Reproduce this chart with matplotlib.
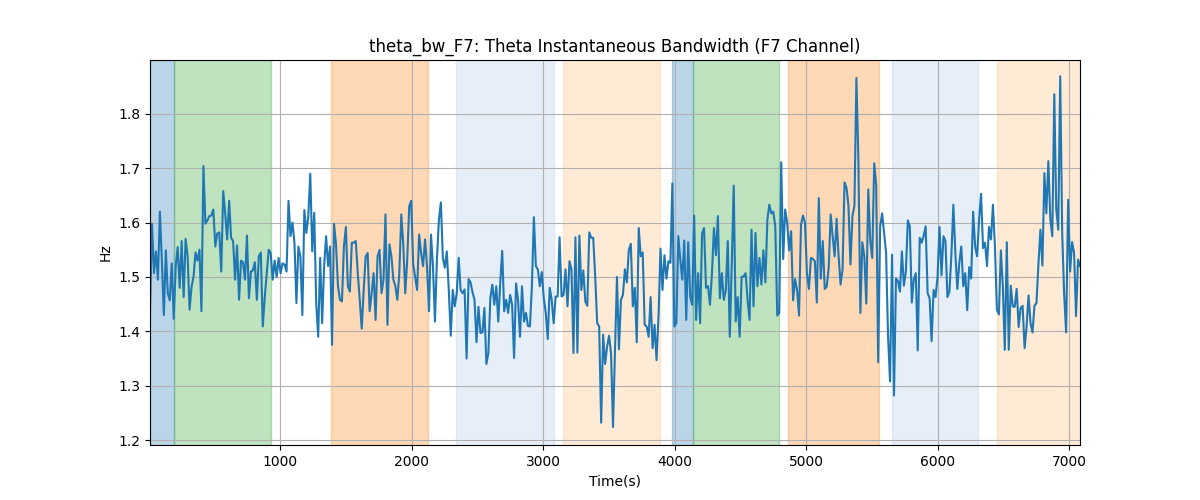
import numpy as np
import matplotlib
matplotlib.use('Agg')
import matplotlib.pyplot as plt

# theta bandwidth readings, F7 channel (left to right)
bw_part1 = [1.435, 1.598, 1.507, 1.547, 1.495, 1.62, 1.53, 1.43, 1.549, 1.47,
            1.457, 1.525, 1.423, 1.52, 1.555, 1.48, 1.566, 1.463, 1.57, 1.538,
            1.44, 1.482, 1.5, 1.545, 1.53, 1.55, 1.437, 1.704, 1.598, 1.604,
            1.612, 1.613, 1.624, 1.556, 1.58, 1.582, 1.51, 1.658, 1.617, 1.569,
            1.64, 1.572, 1.566, 1.495, 1.558, 1.458, 1.53, 1.527, 1.495, 1.576,
            1.461, 1.51, 1.512, 1.527, 1.458, 1.538, 1.545, 1.409, 1.463, 1.507,
            1.55, 1.544, 1.495, 1.53, 1.5, 1.535, 1.507, 1.525, 1.523, 1.51,
            1.64, 1.575, 1.6, 1.563, 1.452, 1.556, 1.538, 1.43]
bw_part2 = [1.623, 1.581, 1.612, 1.69, 1.547, 1.618, 1.452, 1.39, 1.535, 1.415,
            1.52, 1.575, 1.52, 1.556, 1.375, 1.598, 1.56, 1.483, 1.458, 1.455,
            1.556, 1.592, 1.483, 1.473, 1.563, 1.563, 1.566, 1.507, 1.458, 1.405,
            1.476, 1.538, 1.544, 1.437, 1.47, 1.507, 1.421, 1.538, 1.55, 1.47,
            1.495, 1.615, 1.412, 1.56, 1.538, 1.495, 1.483, 1.458, 1.507, 1.615,
            1.56, 1.47, 1.532, 1.63, 1.64, 1.523, 1.5, 1.476, 1.578, 1.544,
            1.52, 1.569, 1.52, 1.437, 1.578, 1.52, 1.418, 1.532, 1.605, 1.637,
            1.535, 1.517, 1.547, 1.476, 1.392, 1.476, 1.446, 1.47, 1.535]
bw_part3 = [1.476, 1.47, 1.477, 1.35, 1.496, 1.49, 1.472, 1.458, 1.38, 1.445,
            1.397, 1.398, 1.443, 1.34, 1.36, 1.461, 1.486, 1.449, 1.483, 1.418,
            1.489, 1.548, 1.437, 1.458, 1.434, 1.467, 1.449, 1.351, 1.488, 1.458,
            1.39, 1.483, 1.418, 1.434, 1.41, 1.409, 1.483, 1.61, 1.52, 1.514,
            1.483, 1.509, 1.461, 1.434, 1.386, 1.48, 1.458, 1.415, 1.464, 1.464,
            1.573, 1.464, 1.467, 1.514, 1.446, 1.529, 1.514, 1.36, 1.573, 1.361,
            1.576, 1.476, 1.512, 1.455, 1.447, 1.582, 1.572, 1.572, 1.5, 1.415,
            1.409, 1.232, 1.394, 1.34, 1.372, 1.392, 1.36, 1.224]
bw_part4 = [1.366, 1.5, 1.367, 1.458, 1.467, 1.514, 1.49, 1.55, 1.561, 1.446,
            1.48, 1.38, 1.59, 1.538, 1.545, 1.412, 1.409, 1.39, 1.463, 1.369,
            1.412, 1.347, 1.428, 1.552, 1.476, 1.54, 1.497, 1.529, 1.526, 1.672,
            1.409, 1.415, 1.575, 1.532, 1.495, 1.567, 1.421, 1.564, 1.464, 1.449,
            1.613, 1.421, 1.507, 1.415, 1.58, 1.59, 1.48, 1.483, 1.449, 1.507,
            1.59, 1.54, 1.612, 1.461, 1.507, 1.458, 1.476, 1.566, 1.39, 1.52,
            1.668, 1.418, 1.463, 1.39, 1.5, 1.501, 1.507, 1.458, 1.421, 1.587,
            1.446, 1.581, 1.483, 1.535, 1.486, 1.549, 1.49, 1.605, 1.633]
bw_part5 = [1.617, 1.62, 1.593, 1.429, 1.434, 1.711, 1.533, 1.624, 1.6, 1.549,
            1.584, 1.457, 1.496, 1.476, 1.429, 1.596, 1.613, 1.6, 1.507, 1.478,
            1.535, 1.533, 1.529, 1.453, 1.645, 1.497, 1.566, 1.478, 1.482, 1.517,
            1.615, 1.575, 1.538, 1.607, 1.538, 1.486, 1.514, 1.674, 1.664, 1.63,
            1.523, 1.612, 1.631, 1.866, 1.716, 1.434, 1.564, 1.538, 1.451, 1.661,
            1.566, 1.535, 1.709, 1.67, 1.343, 1.593, 1.617, 1.581, 1.545, 1.39,
            1.308, 1.541, 1.282, 1.497, 1.493, 1.473, 1.547, 1.484, 1.51, 1.604,
            1.593, 1.453, 1.496, 1.507, 1.365, 1.572, 1.563, 1.576]
bw_part6 = [1.593, 1.47, 1.461, 1.382, 1.476, 1.463, 1.5, 1.592, 1.503, 1.575,
            1.566, 1.463, 1.473, 1.54, 1.633, 1.544, 1.478, 1.526, 1.556, 1.483,
            1.507, 1.439, 1.518, 1.497, 1.62, 1.556, 1.538, 1.606, 1.653, 1.553,
            1.563, 1.52, 1.592, 1.569, 1.633, 1.556, 1.44, 1.431, 1.549, 1.483,
            1.366, 1.564, 1.366, 1.484, 1.446, 1.445, 1.478, 1.408, 1.443, 1.447,
            1.369, 1.409, 1.466, 1.415, 1.398, 1.447, 1.452, 1.524, 1.587, 1.521,
            1.691, 1.617, 1.713, 1.606, 1.575, 1.836, 1.625, 1.587, 1.869, 1.581,
            1.467, 1.398, 1.642, 1.51, 1.564, 1.545, 1.428, 1.532, 1.52]

bw = np.array(bw_part1 + bw_part2 + bw_part3 + bw_part4 + bw_part5 + bw_part6)
t_start, t_end = 12, 7080
time = np.linspace(t_start, t_end, len(bw))

# shaded epochs: (start, end, colour, alpha)
span_starts = [t_start, 197, 1388, 2341, 3152, 3980, 4135, 4862, 5653, 6451]
span_ends = [197, 929, 2123, 3083, 3889, 4135, 4791, 5554, 6307, t_end]
span_colors = ['tab:blue', 'tab:green', 'tab:orange', '#aec7e8', '#ffbb78',
               'tab:blue', 'tab:green', 'tab:orange', '#aec7e8', '#ffbb78']

fig, ax = plt.subplots(figsize=(12, 5), dpi=100)
for s, e, c in zip(span_starts, span_ends, span_colors):
    ax.axvspan(s, e, color=c, alpha=0.3)

ax.plot(time, bw, color='tab:blue', linewidth=1.5)
ax.set_xlim(t_start, t_end)
ax.set_ylim(1.191, 1.899)
ax.grid(True)
ax.set_title('theta_bw_F7: Theta Instantaneous Bandwidth (F7 Channel)')
ax.set_xlabel('Time(s)')
ax.set_ylabel('Hz')

plt.savefig('out.png')
